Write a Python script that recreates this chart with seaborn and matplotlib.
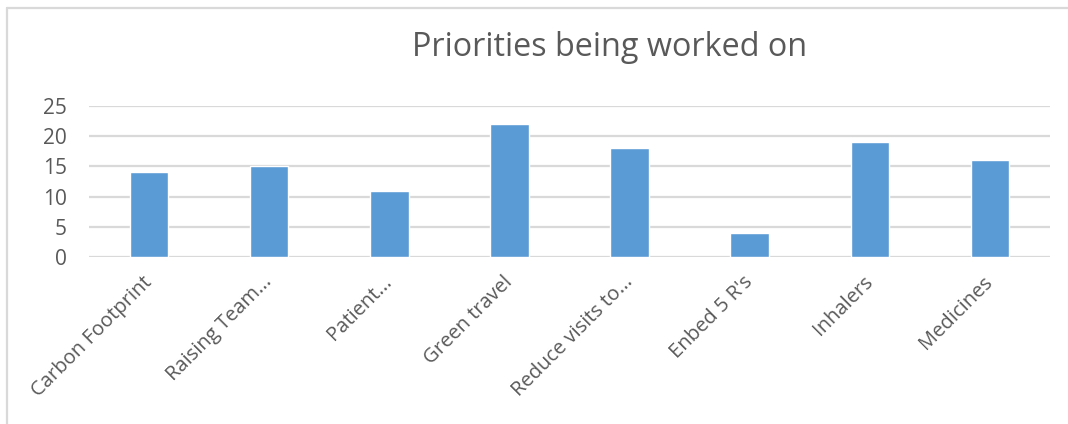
import matplotlib
matplotlib.use("Agg")
import matplotlib.pyplot as plt
import seaborn as sns
import pandas as pd
from matplotlib.lines import Line2D

categories = ["Carbon Footprint", "Raising Team...", "Patient...", "Green travel",
              "Reduce visits to...", "Enbed 5 R's", "Inhalers", "Medicines"]
values = [14, 15, 11, 22, 18, 4, 19, 16]
yticks = [0, 5, 10, 15, 20, 25]
title = "Priorities being worked on"

sns.set_theme(style="white")
plt.rcParams['font.family'] = ['Open Sans', 'DejaVu Sans']

W, H = 1068, 424
fig = plt.figure(figsize=(W / 100, H / 100), dpi=100)
ax = fig.add_axes([89 / W, 1 - 257 / H, (1050 - 89) / W, (257 - 106) / H])

df = pd.DataFrame({"cat": categories, "val": values})
sns.barplot(data=df, x="cat", y="val", color="#5b9bd5", width=0.32,
            saturation=1, ax=ax, zorder=3)

ax.set_ylim(0, 25)
ax.set_xlim(-0.5, len(categories) - 0.5)
ax.set_yticks(yticks)
ax.set_yticklabels([str(t) for t in yticks], fontsize=15, color="#595959")
ax.yaxis.grid(True, color="#d9d9d9", linewidth=1.6, zorder=0)
ax.set_axisbelow(True)
ax.set_xlabel("")
ax.set_ylabel("")
for s in ax.spines.values():
    s.set_visible(False)
ax.tick_params(axis="both", length=0)
ax.tick_params(axis="y", pad=16)
ax.tick_params(axis="x", pad=16)
ax.set_xticks(range(len(categories)))
ax.set_xticklabels(categories, rotation=45, ha="right", va="center",
                   rotation_mode="anchor", fontsize=14.5, color="#595959")

fig.text(610 / W, 1 - 47 / H, title, ha="center", va="center",
         fontsize=23.3, color="#595959")

# outer chart frame (partially visible)
fig.add_artist(Line2D([6.5 / W, 1.0], [1 - 7.5 / H, 1 - 7.5 / H],
                      transform=fig.transFigure, color="#d9d9d9", linewidth=1.6))
fig.add_artist(Line2D([6.5 / W, 6.5 / W], [0, 1 - 7.5 / H],
                      transform=fig.transFigure, color="#d9d9d9", linewidth=1.6))

fig.savefig("out.png", dpi=100)
